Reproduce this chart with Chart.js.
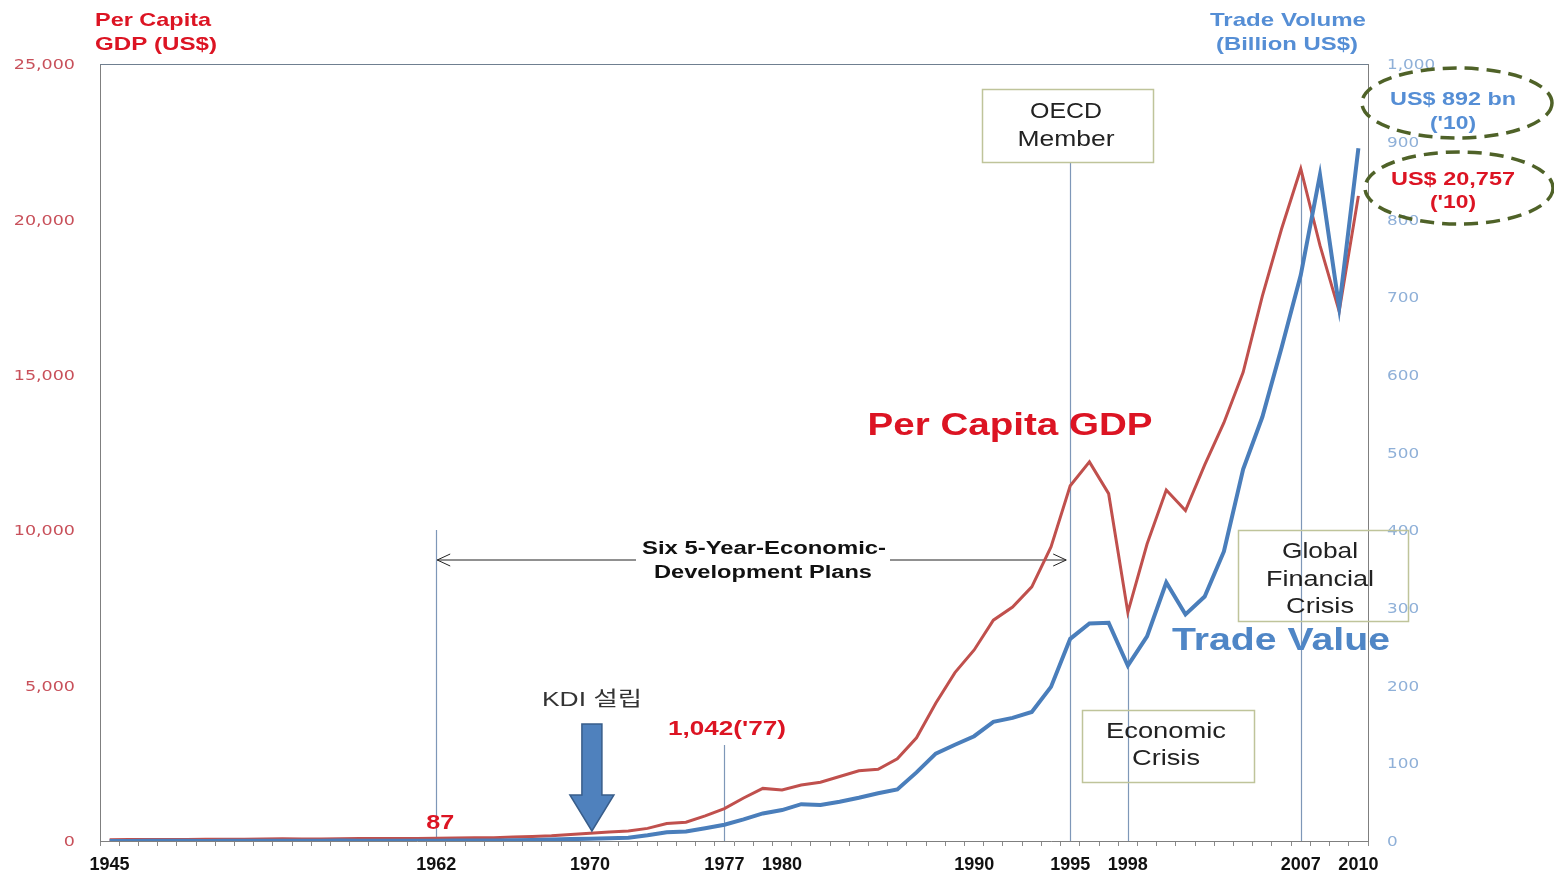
<!DOCTYPE html>
<html><head><meta charset="utf-8">
<script src="https://cdn.jsdelivr.net/npm/chart.js@4.4.1/dist/chart.umd.min.js"></script>
<style>html,body{margin:0;padding:0;background:#fff;overflow:hidden}#wrap{width:1554px;height:875px}</style>
</head><body><div id="wrap"><canvas id="c" width="1554" height="875"></canvas></div>
<script>
// ---- data ----
const years = [];
for (let y = 1945; y <= 2010; y++) years.push(String(y));
const shownYears = ['1945','1962','1970','1977','1980','1990','1995','1998','2007','2010'];

const gdpPerCapita = [
  40,45,45,50,50,55,55,60,67,70,          // 1945-1954
  65,66,74,80,81,79,82,87,100,103,        // 1955-1964
  105,125,142,169,210,253,289,324,406,563,// 1965-1974
  602,807,1042,1383,1693,1645,1800,1893,2076,2257, // 1975-1984
  2309,2643,3321,4435,5418,6147,7105,7527,8177,9459, // 1985-1994
  11432,12197,11176,7355,9554,11292,10631,12100,13460,15082, // 1995-2004
  17531,19691,21632,19161,17041,20757     // 2005-2010
];
const tradeVolume = [
  0.1,0.1,0.2,0.3,0.3,0.1,0.2,0.3,0.4,0.3,   // 1945-1954
  0.4,0.4,0.5,0.4,0.3,0.38,0.35,0.47,0.65,0.52, // 1955-1964
  0.64,0.97,1.32,1.92,2.45,2.82,3.46,4.14,7.44,11.31, // 1965-1974
  12.35,16.46,20.88,27.87,35.47,39.8,47.38,46.44,50.49,55.65, // 1975-1984
  61.4,66.29,88.3,112.51,123.84,134.86,153.39,158.41,166.04,198.36, // 1985-1994
  260.18,280.05,280.79,225.6,263.44,332.75,291.54,314.6,372.64,478.31, // 1995-2004
  545.66,634.85,728.34,857.28,686.62,891.6  // 2005-2010
];
const leftTicks = [0,5000,10000,15000,20000,25000];
const rightTicks = [0,100,200,300,400,500,600,700,800,900,1000];

// ---- helpers ----
function txt(ctx, s, x, y, font, color, opt) {
  opt = opt || {};
  ctx.save();
  ctx.font = font;
  const m = ctx.measureText(s).width;
  const sx = opt.w ? opt.w / m : (opt.sx || 1);
  ctx.translate(x, y + 1.5);
  ctx.scale(sx, 1);
  ctx.textAlign = opt.align || 'center';
  ctx.textBaseline = 'middle';
  ctx.fillStyle = color;
  ctx.fillText(s, 0, 0);
  ctx.restore();
}
const RED = '#DC1423', BLUE_T = '#558ED5';
const AF = '"Liberation Sans", Arial, "Noto Sans CJK KR", sans-serif';

const annot = {
  id: 'annot',
  beforeDatasetsDraw(chart) {
    const ctx = chart.ctx, xs = chart.scales.x, yl = chart.scales.yL, a = chart.chartArea;
    const X = y => xs.getPixelForValue(years.indexOf(String(y)));
    ctx.save();
    ctx.strokeStyle = '#6f7f90'; ctx.lineWidth = 1;
    ctx.beginPath(); ctx.moveTo(a.left, a.top + 0.5); ctx.lineTo(a.right, a.top + 0.5); ctx.stroke();
    ctx.strokeStyle = '#7E97B8'; ctx.lineWidth = 1.2;
    const vl = (yr, top) => { const x = Math.round(X(yr)) + 0.5; ctx.beginPath(); ctx.moveTo(x, top); ctx.lineTo(x, a.bottom); ctx.stroke(); };
    vl(1962, 530);
    vl(1977, 745);
    vl(1995, 162);
    vl(1998, yl.getPixelForValue(gdpPerCapita[years.indexOf('1998')]));
    vl(2007, yl.getPixelForValue(gdpPerCapita[years.indexOf('2007')]));
    const x1 = X(1962) + 1, x2 = X(1995) - 4, ya = 560;
    ctx.strokeStyle = '#222'; ctx.lineWidth = 1;
    ctx.beginPath(); ctx.moveTo(x1, ya); ctx.lineTo(x2, ya); ctx.stroke();
    ctx.beginPath();
    ctx.moveTo(x1 + 13, ya - 6); ctx.lineTo(x1, ya); ctx.lineTo(x1 + 13, ya + 6);
    ctx.moveTo(x2 - 13, ya - 6); ctx.lineTo(x2, ya); ctx.lineTo(x2 - 13, ya + 6);
    ctx.stroke();
    ctx.fillStyle = '#fff';
    ctx.fillRect(636, 536, 254, 48);
    ctx.restore();
  },
  afterDraw(chart) {
    const ctx = chart.ctx, xs = chart.scales.x, yl = chart.scales.yL, yr = chart.scales.yR;
    const X = y => xs.getPixelForValue(years.indexOf(String(y)));
    leftTicks.forEach(v => txt(ctx, v.toLocaleString('en-US'), 75, yl.getPixelForValue(v), '14px "DejaVu Sans"', '#C8505A', {align: 'right', sx: 1.25}));
    rightTicks.forEach(v => txt(ctx, v.toLocaleString('en-US'), 1387, yr.getPixelForValue(v), '14px "DejaVu Sans"', '#8FB0D8', {align: 'left', sx: 1.2}));
    txt(ctx, 'Per Capita', 153, 19, 'bold 19px ' + AF, RED, {w: 116});
    txt(ctx, 'GDP (US$)', 156, 43, 'bold 19px ' + AF, RED, {w: 122});
    txt(ctx, 'Trade Volume', 1288, 19, 'bold 19px ' + AF, BLUE_T, {w: 156});
    txt(ctx, '(Billion US$)', 1287, 43, 'bold 19px ' + AF, BLUE_T, {w: 142});
    txt(ctx, 'Six 5-Year-Economic-', 764, 548, 'bold 18px ' + AF, '#111', {w: 244});
    txt(ctx, 'Development Plans', 763, 572, 'bold 18px ' + AF, '#111', {w: 218});
    const xk = X(1970) + 2;
    ctx.save();
    ctx.fillStyle = '#4F81BD'; ctx.strokeStyle = '#385D8A'; ctx.lineWidth = 1.5;
    ctx.beginPath();
    ctx.moveTo(xk - 10, 724); ctx.lineTo(xk + 10, 724); ctx.lineTo(xk + 10, 795);
    ctx.lineTo(xk + 22, 795); ctx.lineTo(xk, 831); ctx.lineTo(xk - 22, 795);
    ctx.lineTo(xk - 10, 795); ctx.closePath();
    ctx.fill(); ctx.stroke();
    ctx.restore();
    txt(ctx, 'KDI 설립', 592, 699, '20px ' + AF, '#333', {w: 100});
    txt(ctx, '87', X(1962) + 4, 822, 'bold 21px ' + AF, RED, {w: 28});
    txt(ctx, "1,042('77)", 727, 728, 'bold 21px ' + AF, RED, {w: 118});
    txt(ctx, 'Per Capita GDP', 1010, 425, 'bold 31px ' + AF, RED, {w: 285});
    txt(ctx, 'Trade Value', 1281, 640, 'bold 31px ' + AF, '#4F86C6', {w: 218});
    ctx.save();
    ctx.strokeStyle = '#BFC49A'; ctx.lineWidth = 1.5;
    ctx.strokeRect(982.5, 89.5, 171, 73);
    ctx.strokeRect(1082.5, 710.5, 172, 72);
    ctx.strokeRect(1238.5, 530.5, 170, 91);
    ctx.restore();
    txt(ctx, 'OECD', 1066, 110, '22px ' + AF, '#222', {w: 72});
    txt(ctx, 'Member', 1066, 138, '22px ' + AF, '#222', {w: 97});
    txt(ctx, 'Economic', 1166, 730, '22px ' + AF, '#222', {w: 120});
    txt(ctx, 'Crisis', 1166, 757, '22px ' + AF, '#222', {w: 68});
    txt(ctx, 'Global', 1320, 550, '22px ' + AF, '#222', {w: 76});
    txt(ctx, 'Financial', 1320, 578, '22px ' + AF, '#222', {w: 108});
    txt(ctx, 'Crisis', 1320, 605, '22px ' + AF, '#222', {w: 68});
    ctx.save();
    ctx.strokeStyle = '#4F6228'; ctx.lineWidth = 3.5; ctx.setLineDash([14, 8]);
    ctx.beginPath(); ctx.ellipse(1457, 103, 95, 35, 0, 0, Math.PI * 2); ctx.stroke();
    ctx.beginPath(); ctx.ellipse(1459, 188, 94, 36, 0, 0, Math.PI * 2); ctx.stroke();
    ctx.restore();
    txt(ctx, 'US$ 892 bn', 1453, 98, 'bold 19px ' + AF, BLUE_T, {w: 126});
    txt(ctx, "('10)", 1453, 122, 'bold 19px ' + AF, BLUE_T, {w: 46});
    txt(ctx, 'US$ 20,757', 1453, 178, 'bold 19px ' + AF, RED, {w: 124});
    txt(ctx, "('10)", 1453, 201, 'bold 19px ' + AF, RED, {w: 46});
  }
};

new Chart(document.getElementById('c'), {
  type: 'line',
  data: {
    labels: years,
    datasets: [
      { label: 'Trade Value', data: tradeVolume, yAxisID: 'yR', borderColor: '#4A7EBB', borderWidth: 4, pointRadius: 0, tension: 0, order: 0 },
      { label: 'Per Capita GDP', data: gdpPerCapita, yAxisID: 'yL', borderColor: '#C0504D', borderWidth: 3, pointRadius: 0, tension: 0, order: 1 }
    ]
  },
  options: {
    responsive: false, animation: false,
    layout: { padding: { top: 64, left: 0, right: 0, bottom: 0 } },
    plugins: { legend: { display: false }, tooltip: { enabled: false } },
    scales: {
      x: {
        type: 'category', offset: true,
        grid: { display: true, drawOnChartArea: false, drawTicks: true, tickLength: 5, color: '#8a8a8a', offset: true },
        border: { display: true, color: '#7f7f7f', width: 1 },
        ticks: {
          autoSkip: false, maxRotation: 0, minRotation: 0, padding: 8,
          font: { family: 'Liberation Sans', weight: 'bold', size: 18 }, color: '#111',
          callback: function (v, i) { const l = years[i]; return shownYears.includes(l) ? l : ''; }
        },
        afterFit: s => { s.height = 34; }
      },
      yL: {
        position: 'left', min: 0, max: 25000,
        grid: { display: false },
        border: { display: true, color: '#7f7f7f', width: 1 },
        ticks: { stepSize: 5000, color: 'rgba(0,0,0,0)' },
        afterFit: s => { s.width = 100; }
      },
      yR: {
        position: 'right', min: 0, max: 1000,
        grid: { display: false },
        border: { display: true, color: '#7f7f7f', width: 1 },
        ticks: { stepSize: 100, color: 'rgba(0,0,0,0)' },
        afterFit: s => { s.width = 186; }
      }
    }
  },
  plugins: [annot]
});
</script></body></html>
